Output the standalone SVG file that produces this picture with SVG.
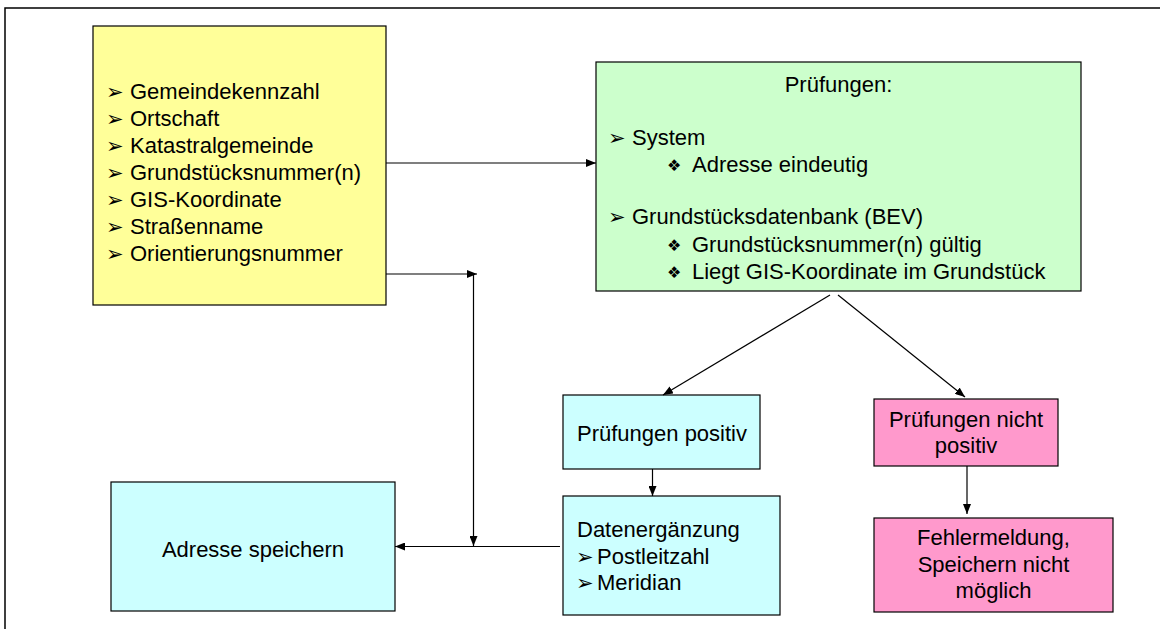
<svg xmlns="http://www.w3.org/2000/svg" width="1160" height="629" viewBox="0 0 1160 629">
<style>
text{font-family:"Liberation Sans",Arial,sans-serif;font-size:22px;fill:#000}
.c{text-anchor:middle}
.b{font-family:"DejaVu Sans",sans-serif;font-size:21px}
.d{font-family:"DejaVu Sans",sans-serif;font-size:16px}
.box{stroke:#000;stroke-width:1.2}
.ln{stroke:#000;stroke-width:1.2;fill:none}
</style>
<defs>
<marker id="ah" markerWidth="10" markerHeight="8" refX="10" refY="4" orient="auto" markerUnits="userSpaceOnUse">
<path d="M0,0 L10,4 L0,8 Z" fill="#000"/>
</marker>
</defs>
<rect width="1160" height="629" fill="#fff"/>
<path d="M5,629 V8 H1160" fill="none" stroke="#000" stroke-width="1.5"/>

<g id="input">
<rect class="box" x="93" y="26" width="293" height="279" fill="#FFFF99"/>
<text class="b" x="106" y="99">➢</text><text x="130" y="99">Gemeindekennzahl</text>
<text class="b" x="106" y="126">➢</text><text x="130" y="126">Ortschaft</text>
<text class="b" x="106" y="153">➢</text><text x="130" y="153">Katastralgemeinde</text>
<text class="b" x="106" y="180">➢</text><text x="130" y="180">Grundstücksnummer(n)</text>
<text class="b" x="106" y="207">➢</text><text x="130" y="207">GIS-Koordinate</text>
<text class="b" x="106" y="234">➢</text><text x="130" y="234">Straßenname</text>
<text class="b" x="106" y="261">➢</text><text x="130" y="261">Orientierungsnummer</text>
</g>

<g id="pruefungen">
<rect class="box" x="596" y="62" width="485" height="229" fill="#CCFFCC"/>
<text class="c" x="838.5" y="92">Prüfungen:</text>
<text class="b" x="608" y="145">➢</text><text x="632" y="145">System</text>
<text class="d" x="667" y="171">❖</text><text x="692" y="172">Adresse eindeutig</text>
<text class="b" x="608" y="224">➢</text><text x="632" y="224">Grundstücksdatenbank (BEV)</text>
<text class="d" x="667" y="251">❖</text><text x="692" y="252">Grundstücksnummer(n) gültig</text>
<text class="d" x="667" y="278">❖</text><text x="692" y="279">Liegt GIS-Koordinate im Grundstück</text>
</g>

<g id="positiv">
<rect class="box" x="563" y="395" width="197" height="74" fill="#CCFFFF"/>
<text class="c" x="662" y="441">Prüfungen positiv</text>
</g>

<g id="ergaenzung">
<rect class="box" x="563" y="496" width="217" height="119" fill="#CCFFFF"/>
<text x="577" y="537">Datenergänzung</text>
<text class="b" x="576" y="564">➢</text><text x="597" y="564">Postleitzahl</text>
<text class="b" x="576" y="590">➢</text><text x="597" y="590">Meridian</text>
</g>

<g id="nichtpositiv">
<rect class="box" x="874" y="399" width="184" height="67" fill="#FF99CC"/>
<text class="c" x="966" y="427">Prüfungen nicht</text>
<text class="c" x="966" y="453">positiv</text>
</g>

<g id="fehler">
<rect class="box" x="874" y="518" width="239" height="94" fill="#FF99CC"/>
<text class="c" x="993.5" y="545">Fehlermeldung,</text>
<text class="c" x="993.5" y="572">Speichern nicht</text>
<text class="c" x="993.5" y="598">möglich</text>
</g>

<g id="speichern">
<rect class="box" x="111" y="482" width="284" height="129" fill="#CCFFFF"/>
<text class="c" x="253" y="557">Adresse speichern</text>
</g>

<g id="connectors">
<line class="ln" x1="386" y1="163" x2="596" y2="163" marker-end="url(#ah)"/>
<line class="ln" x1="386" y1="274" x2="477" y2="274" marker-end="url(#ah)"/>
<line class="ln" x1="473.5" y1="274" x2="473.5" y2="546" marker-end="url(#ah)"/>
<line class="ln" x1="560" y1="546.5" x2="395" y2="546.5" marker-end="url(#ah)"/>
<line class="ln" x1="830" y1="295" x2="663" y2="395" marker-end="url(#ah)"/>
<line class="ln" x1="838" y1="295" x2="965" y2="397" marker-end="url(#ah)"/>
<line class="ln" x1="652.5" y1="469" x2="652.5" y2="496" marker-end="url(#ah)"/>
<line class="ln" x1="967" y1="466" x2="967" y2="514" marker-end="url(#ah)"/>
</g>
</svg>
